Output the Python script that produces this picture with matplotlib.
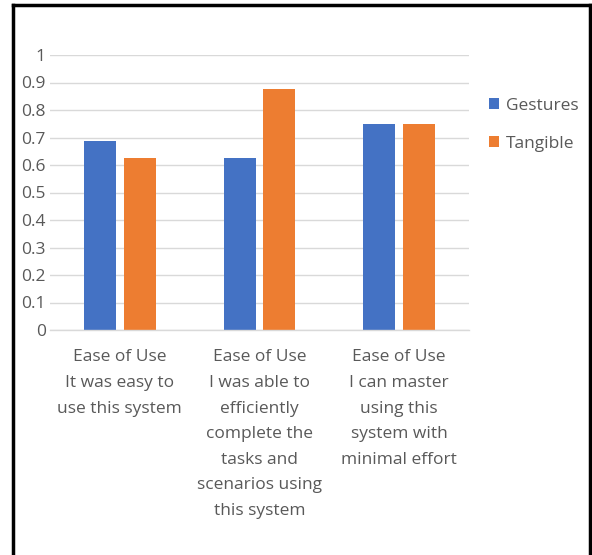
import matplotlib
matplotlib.use("Agg")
import matplotlib.pyplot as plt
from matplotlib.lines import Line2D
import numpy as np

categories = [
    "Ease of Use\nIt was easy to\nuse this system",
    "Ease of Use\nI was able to\nefficiently\ncomplete the\ntasks and\nscenarios using\nthis system",
    "Ease of Use\nI can master\nusing this\nsystem with\nminimal effort",
]
series_names = ["Gestures", "Tangible"]
gestures = [0.6875, 0.625, 0.75]
tangible = [0.625, 0.875, 0.75]
yticks = [0, 0.1, 0.2, 0.3, 0.4, 0.5, 0.6, 0.7, 0.8, 0.9, 1]
ytick_labels = ["0", "0.1", "0.2", "0.3", "0.4", "0.5", "0.6", "0.7", "0.8", "0.9", "1"]

W, H = 592, 555
fig = plt.figure(figsize=(W / 100, H / 100), dpi=100)
plt.rcParams['font.family'] = ['Open Sans', 'DejaVu Sans']

# frame around figure (left, top, right only)
fx0, fx1, fy0 = 13 / W, 590 / W, 1 - 5 / H
for xs, ys in [([fx0, fx0], [fy0, -0.1]), ([fx0, fx1], [fy0, fy0]), ([fx1, fx1], [fy0, -0.1])]:
    fig.add_artist(Line2D(xs, ys, transform=fig.transFigure, color="black", linewidth=2.5,
                          solid_capstyle="projecting"))

left, right, top, bottom = 50, 469, 55, 330
ax = fig.add_axes([left / W, (H - bottom) / H, (right - left) / W, (bottom - top) / H])

text_color = "#595959"
x = np.arange(len(categories))
bw = 0.229
gap = 0.057
ax.bar(x - (bw + gap) / 2, gestures, bw, color="#4472C4", label=series_names[0], zorder=3)
ax.bar(x + (bw + gap) / 2, tangible, bw, color="#ED7D31", label=series_names[1], zorder=3)

ax.set_xlim(-0.5, len(categories) - 0.5)
ax.set_ylim(0, 1)
ax.set_yticks(yticks)
ax.set_yticklabels(ytick_labels)
ax.set_xticks(x)
ax.set_xticklabels(categories, linespacing=1.8, va="top")
ax.tick_params(axis="both", length=0, colors=text_color, labelsize=12.5)
ax.tick_params(axis="x", pad=14)
ax.tick_params(axis="y", pad=3)
ax.grid(axis="y", color="#D9D9D9", linewidth=1, zorder=0)
for s in ["top", "right", "left"]:
    ax.spines[s].set_visible(False)
ax.spines["bottom"].set_color("#D9D9D9")
ax.spines["bottom"].set_linewidth(1)
ax.spines["bottom"].set_zorder(4)

leg = ax.legend(loc="upper left", bbox_to_anchor=(489 / W, (H - 98) / H), bbox_transform=fig.transFigure,
                frameon=False, fontsize=12.5, handlelength=0.6, handleheight=0.6, handletextpad=0.4,
                labelspacing=1.25, borderaxespad=0, borderpad=0)
for t in leg.get_texts():
    t.set_color(text_color)

fig.savefig("out.png", dpi=100)
